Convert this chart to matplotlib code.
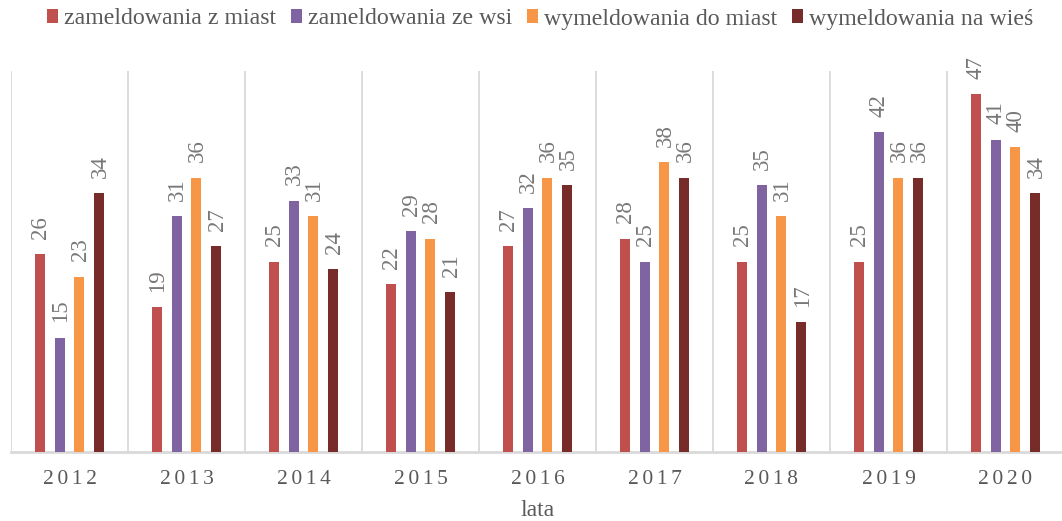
import matplotlib
matplotlib.use("Agg")
import matplotlib.pyplot as plt
import numpy as np

years = ["2012", "2013", "2014", "2015", "2016", "2017", "2018", "2019", "2020"]
series_names = ["zameldowania z miast", "zameldowania ze wsi", "wymeldowania do miast", "wymeldowania na wieś"]
z_miast = [26, 19, 25, 22, 27, 28, 25, 25, 47]
z_wsi = [15, 31, 33, 29, 32, 25, 35, 42, 41]
do_miast = [23, 36, 31, 28, 36, 38, 31, 36, 40]
na_wies = [34, 27, 24, 21, 35, 36, 17, 36, 34]
colors = ["#C0504D", "#8064A2", "#F79646", "#772C2A"]

plt.rcParams['font.family'] = ['Liberation Serif', 'DejaVu Serif']
gray = "#595959"

fig = plt.figure(figsize=(10.62, 5.21), dpi=100)
ax = fig.add_axes([11/1062, 1 - 452/521, 1053/1062, (452-71)/521])

x = np.arange(len(years))
offsets = [-0.256, -0.085, 0.085, 0.256]
width = 0.085
all_series = [z_miast, z_wsi, do_miast, na_wies]
for vals, name, c, off in zip(all_series, series_names, colors, offsets):
    bars = ax.bar(x + off, vals, width, color=c, label=name, zorder=3)
    for b, v in zip(bars, vals):
        ax.annotate(str(v), (b.get_x() + b.get_width()/2, v), xytext=(0.5, 11),
                    textcoords="offset points", rotation=90, ha="center", va="bottom",
                    fontsize=16.5, color="#777777")

ax.set_xlim(-0.5, len(years) - 0.5)
ax.set_ylim(0, 50)
ax.set_yticks([])
ax.set_xticks(x)
ax.set_xticklabels(["\u2006".join(y) for y in years], fontsize=15.5, color=gray)
ax.set_xticks(np.arange(-0.5, len(years)), minor=True)
ax.tick_params(axis='x', which='both', length=0, pad=13)
ax.grid(True, axis='x', which='minor', color="#D9D9D9", linewidth=1.3, zorder=0)
for s in ["top", "right", "left"]:
    ax.spines[s].set_visible(False)
ax.spines["bottom"].set_color("#D9D9D9")
ax.spines["bottom"].set_linewidth(2)
ax.set_xlabel("lata", fontsize=17, color=gray, labelpad=8)

leg = fig.legend(loc="center", bbox_to_anchor=(540/1062, 1 - 19/521), ncol=4, frameon=False,
                 fontsize=17.2, handlelength=0.47, handleheight=0.47, handletextpad=0.26,
                 columnspacing=0.6, labelcolor=gray)

fig.savefig("out.png", dpi=100)
